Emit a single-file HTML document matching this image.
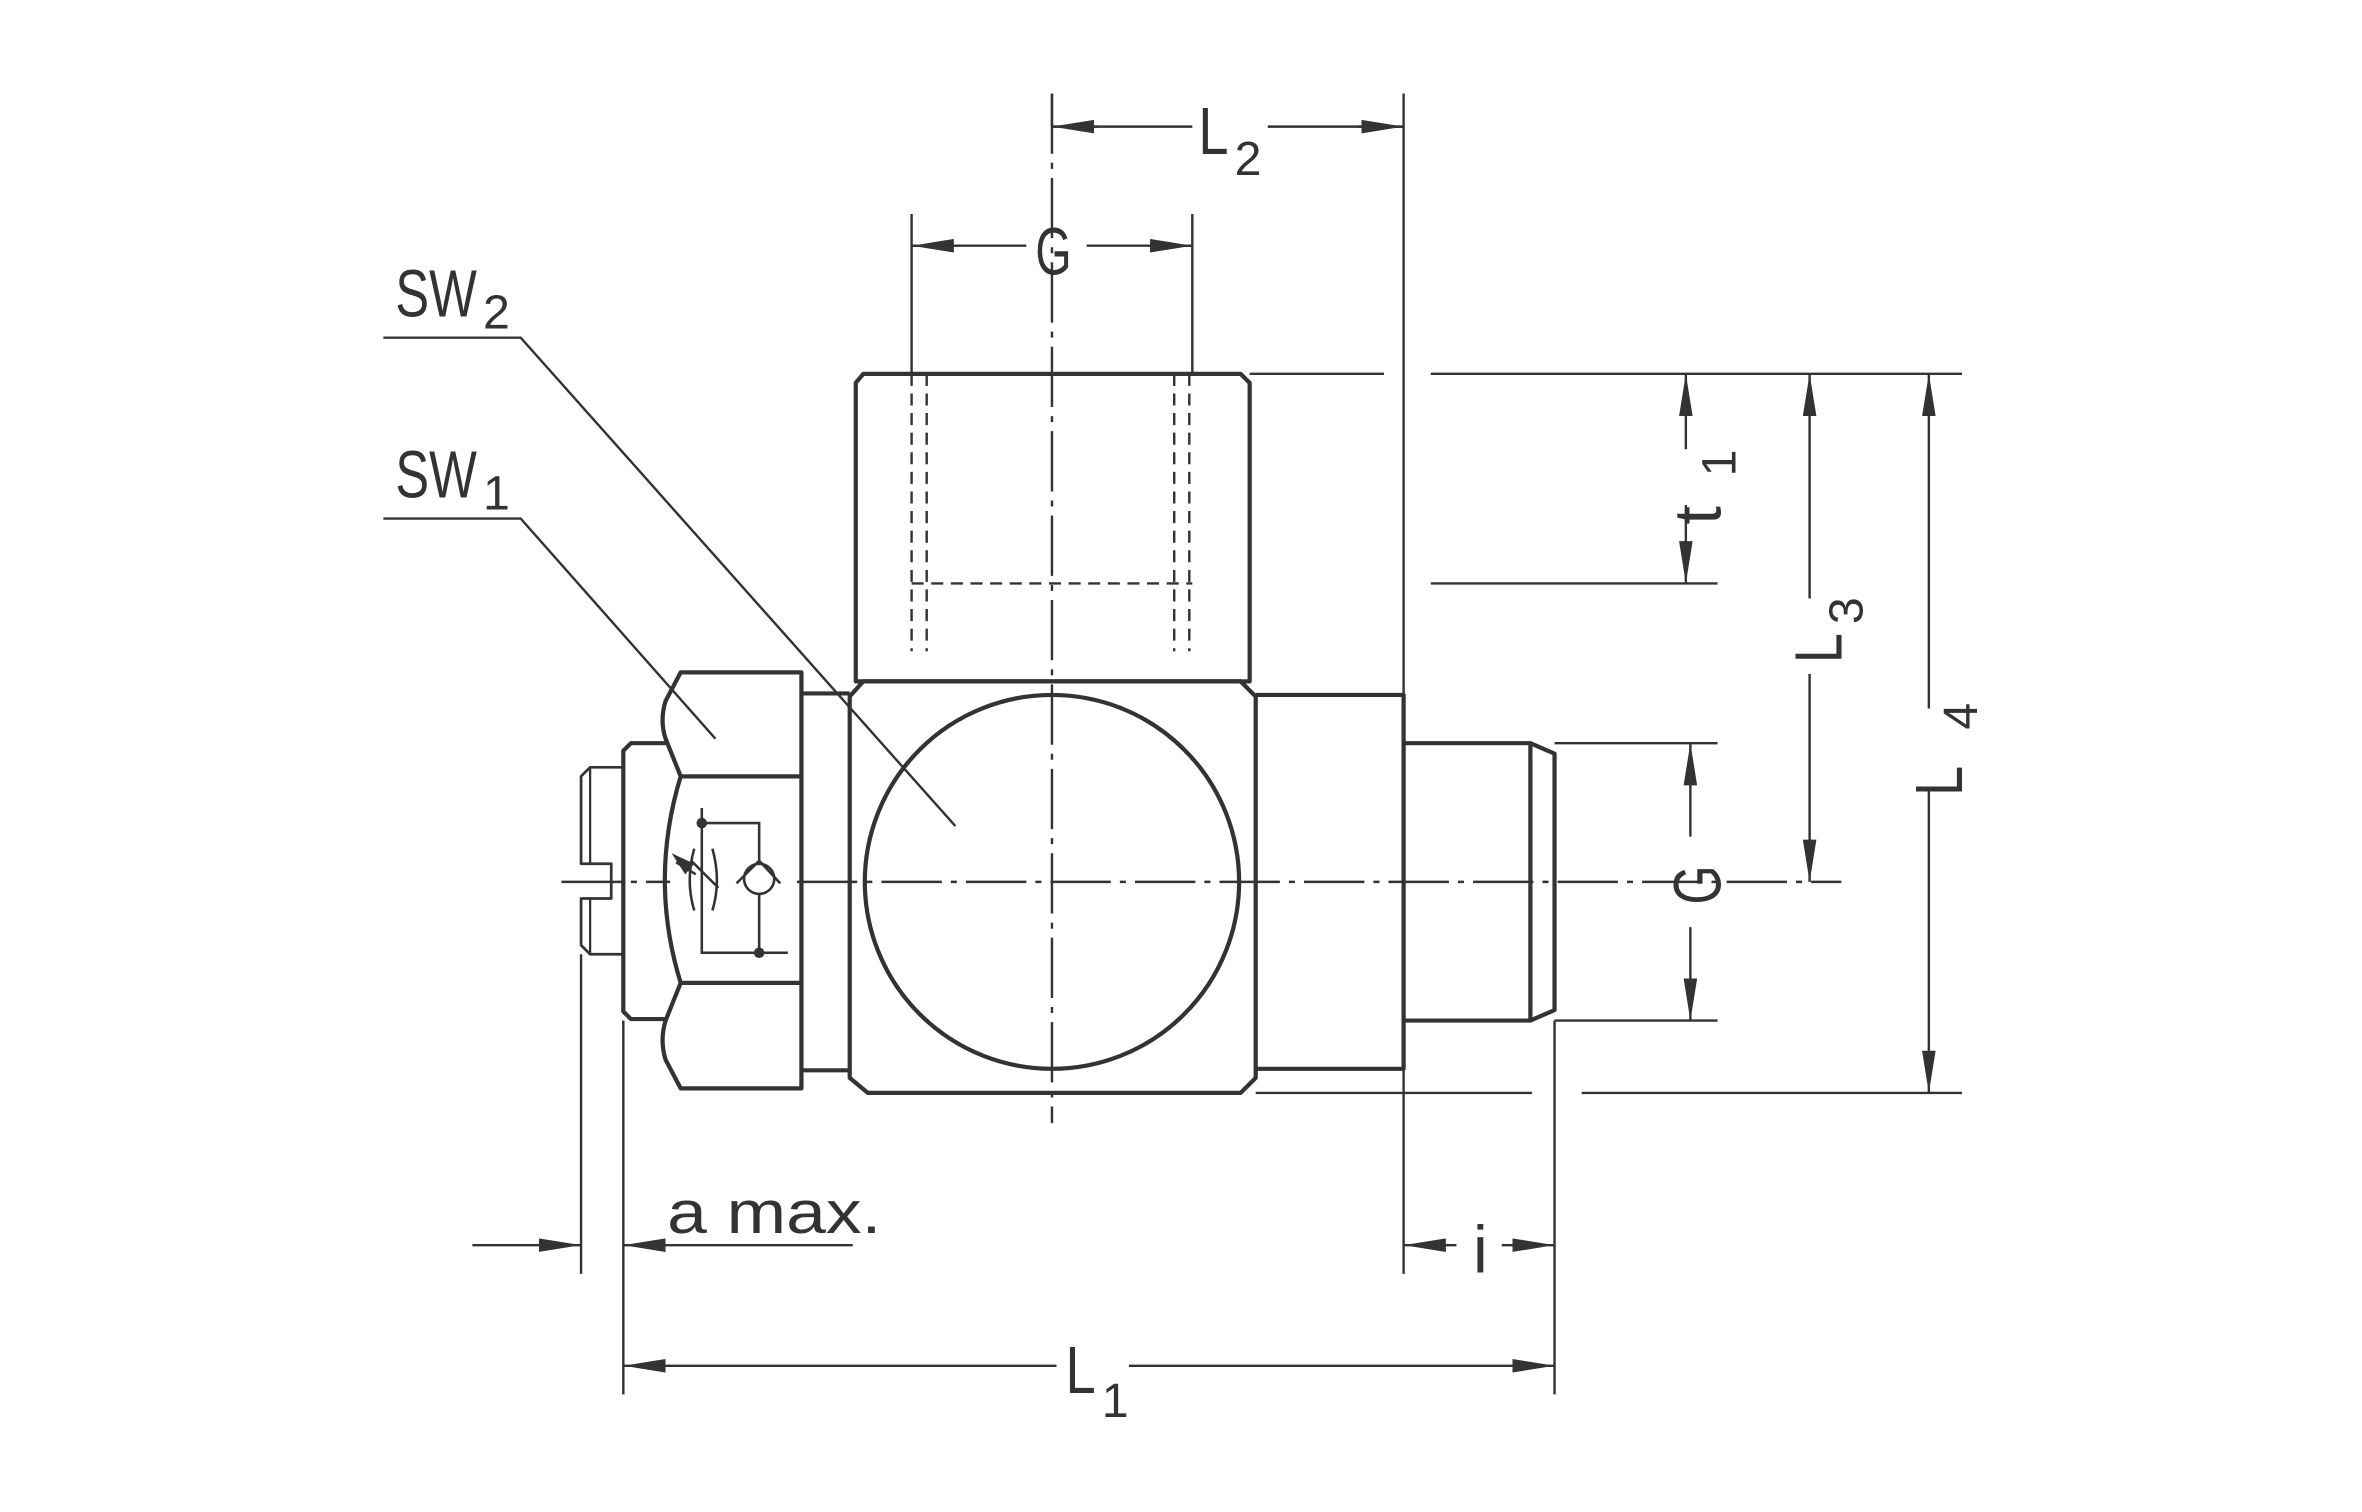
<!DOCTYPE html>
<html><head><style>html,body{margin:0;padding:0;background:#fff}svg{display:block}</style></head>
<body>
<svg width="2362" height="1512" viewBox="0 0 1565 1003" preserveAspectRatio="none" xmlns="http://www.w3.org/2000/svg">
<defs>
<marker id="a" viewBox="0 0 10 10" refX="10" refY="5" markerWidth="28" markerHeight="9" preserveAspectRatio="none" markerUnits="userSpaceOnUse" orient="auto-start-reverse"><path d="M0,0 L10,5 L0,10 z" fill="#333"/></marker>
</defs>
<g fill="none" stroke="#333" stroke-width="1.6">
<path d="M372 585 H444 M528 585 H1220" stroke-dasharray="40 6 4 6"/>
<path d="M697 62 V745" stroke-dasharray="40 6 4 6"/>
<path d="M930 62 V845 M697 62 V84 M604 142 V248 M790 142 V248"/>
<path d="M828 248 H917 M948 248 H1300 M948 387 H1138 M1030 493 H1138 M1030 677 H1138 M832 725 H1015 M1048 725 H1300"/>
<path d="M385 633 V845 M413 677 V925 M1030 677 V925"/>
<path d="M697 84 H790 M840 84 H930"/>
<path d="M697 84 H727" marker-start="url(#a)"/>
<path d="M900 84 H930" marker-end="url(#a)"/>
<path d="M604 163 H680 M720 163 H790"/>
<path d="M604 163 H634" marker-start="url(#a)"/>
<path d="M760 163 H790" marker-end="url(#a)"/>
<path d="M1117 248 V298" marker-start="url(#a)"/>
<path d="M1117 335 V387" marker-end="url(#a)"/>
<path d="M1199 248 V397" marker-start="url(#a)"/>
<path d="M1199 447 V585" marker-end="url(#a)"/>
<path d="M1278 248 V470" marker-start="url(#a)"/>
<path d="M1278 523 V725" marker-end="url(#a)"/>
<path d="M1120 493 V555" marker-start="url(#a)"/>
<path d="M1120 615 V677" marker-end="url(#a)"/>
<path d="M313 826 H385" marker-end="url(#a)"/>
<path d="M413 826 H565" marker-start="url(#a)"/>
<path d="M930 826 H965" marker-start="url(#a)"/>
<path d="M995 826 H1030" marker-end="url(#a)"/>
<path d="M413 906 H700" marker-start="url(#a)"/>
<path d="M748 906 H1030" marker-end="url(#a)"/>
<path d="M254 224 H345 L633 548 M254 344 H345 L474 490"/>
<path d="M604 248 V432 M614 248 V432 M778 248 V432 M788 248 V432 M604 387 H790" stroke-dasharray="8 5"/>
</g>
<g fill="none" stroke="#333" stroke-width="2.8" stroke-linejoin="round">
<path d="M572 248 H822 L828 254 V452 H567 V254 Z"/>
<path d="M572 452 H822 L832 462 V715 L822 725 H575 L563 715 V462 Z"/>
<circle cx="697" cy="585" r="124"/>
<path d="M832 461 H930 V709 H832"/>
<path d="M930 493 H1014 L1030 500 V670 L1014 677 H930 M1014 493 V677"/>
<path d="M532 460 H563 M532 710 H563"/>
<path d="M451 446 H531 V722 H451 L441 703 Q437 690 441 677 L451 652 Q430 584 451 515 L441 490 Q437 478 441 465 Z"/>
<path d="M451 515 H531 M451 652 H531"/>
<path d="M441 493 H418 L413 498 V671 L418 676 H441"/>
<path d="M413 509 H391 L385 515 V573 H405 V596 H385 V627 L391 633 H413" stroke-width="1.8"/>
<path d="M391 509 V573 M391 596 V633" stroke-width="1.5"/>
</g>
<g stroke="#333" stroke-width="1.7" fill="none">
<path d="M465 536 V632 H522 M465 546 H503 V573 M503 593 V632"/>
<circle cx="503" cy="583" r="10"/>
<path d="M488 586 L503 571 L517 586"/>
<path d="M460 563 Q454 584 460 604 M472 563 Q478 584 472 604"/>
<path d="M458 571 L476 589"/>
<path d="M448 572 L461 580"/>
</g>
<path d="M445 566 L460 573 L454 580 Z" fill="#333"/>
<circle cx="465" cy="546" r="3.5" fill="#333"/>
<circle cx="503" cy="632" r="3.5" fill="#333"/>
<g font-family="'Liberation Sans',sans-serif" fill="#333" font-size="44">
<text x="794" y="102" textLength="20" lengthAdjust="spacingAndGlyphs">L</text><text x="818" y="116" font-size="32">2</text>
<text x="686" y="182" textLength="24" lengthAdjust="spacingAndGlyphs">G</text>
<text x="262" y="210" textLength="54" lengthAdjust="spacingAndGlyphs">SW</text><text x="320" y="218" font-size="32">2</text>
<text x="262" y="330" textLength="54" lengthAdjust="spacingAndGlyphs">SW</text><text x="320" y="338" font-size="32">1</text>
<text x="442" y="818" font-size="40" textLength="142" lengthAdjust="spacingAndGlyphs">a max.</text>
<text x="976" y="844">i</text>
<text x="706" y="924" textLength="20" lengthAdjust="spacingAndGlyphs">L</text><text x="730" y="940" font-size="32">1</text>
<text transform="translate(1140,348) rotate(-90)">t</text>
<text transform="translate(1150,316) rotate(-90)" font-size="32">1</text>
<text transform="translate(1220,440) rotate(-90)" textLength="20" lengthAdjust="spacingAndGlyphs">L</text>
<text transform="translate(1234,414) rotate(-90)" font-size="32">3</text>
<text transform="translate(1300,528) rotate(-90)" textLength="20" lengthAdjust="spacingAndGlyphs">L</text>
<text transform="translate(1310,484) rotate(-90)" font-size="32">4</text>
<text transform="translate(1140,600) rotate(-90)" textLength="26" lengthAdjust="spacingAndGlyphs">G</text>
</g>
</svg>
</body></html>
